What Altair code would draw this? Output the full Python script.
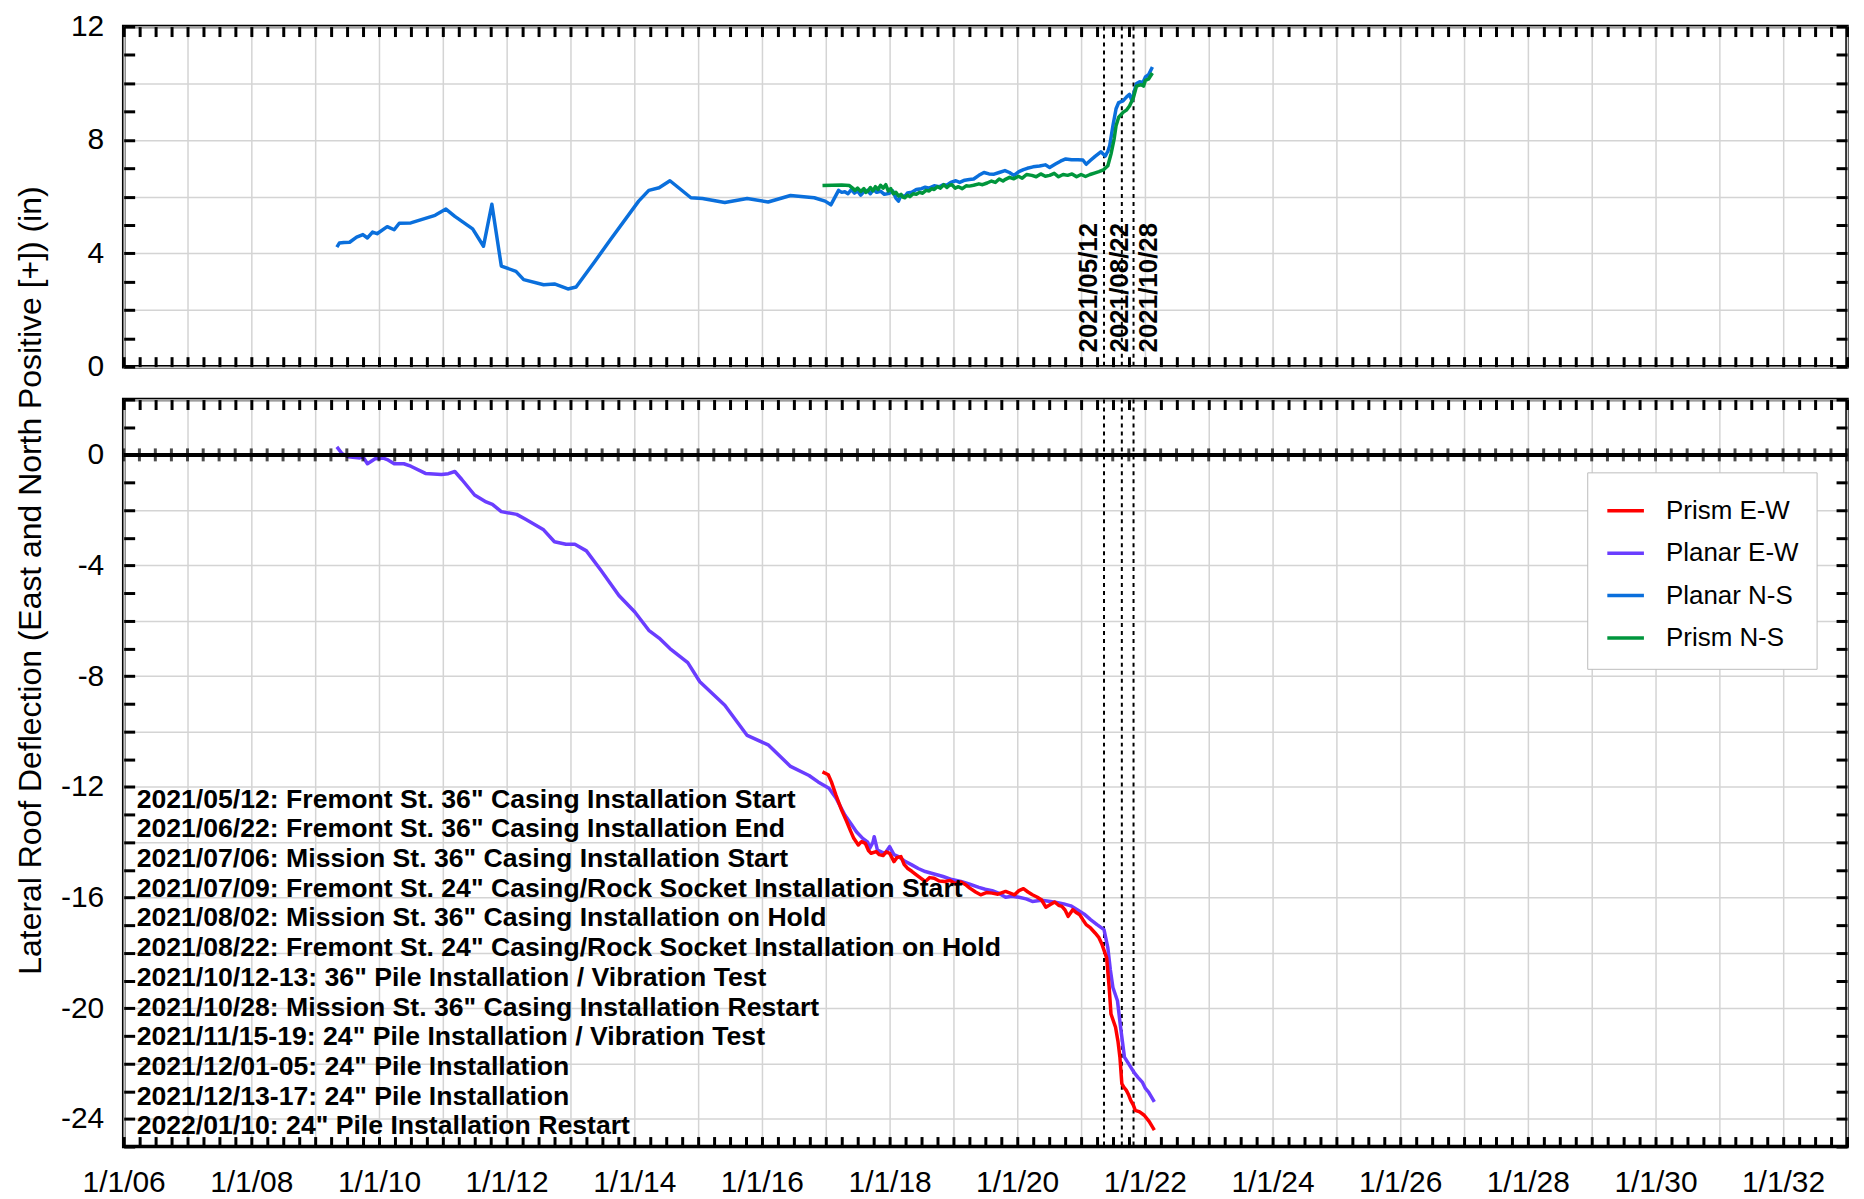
import altair as alt
import pandas as pd

# ---------------- data (decimal years, inches) ----------------
planar_ns_t = [2009.34, 2009.38, 2009.45, 2009.54, 2009.65, 2009.75, 2009.82, 2009.90, 2009.97, 2010.13,
               2010.24, 2010.32, 2010.50, 2010.88, 2011.05, 2011.19, 2011.47, 2011.64, 2011.77, 2011.92,
               2012.15, 2012.27, 2012.58, 2012.75, 2012.96, 2013.09, 2013.38, 2013.62, 2014.07, 2014.23,
               2014.39, 2014.56, 2014.73, 2014.89, 2015.07, 2015.42, 2015.77, 2016.10, 2016.45, 2016.82,
               2016.99, 2017.08, 2017.20, 2017.25, 2017.30, 2017.35, 2017.40, 2017.45, 2017.50, 2017.55,
               2017.60, 2017.65, 2017.70, 2017.75, 2017.80, 2017.86, 2017.92, 2018.00, 2018.05, 2018.10,
               2018.14, 2018.18, 2018.24, 2018.28, 2018.35, 2018.42, 2018.50, 2018.56, 2018.62, 2018.70,
               2018.78, 2018.84, 2018.90, 2018.96, 2019.04, 2019.10, 2019.18, 2019.25, 2019.32, 2019.40,
               2019.48, 2019.56, 2019.64, 2019.72, 2019.81, 2019.88, 2019.95, 2020.03, 2020.10, 2020.16,
               2020.25, 2020.35, 2020.44, 2020.51, 2020.60, 2020.68, 2020.76, 2020.85, 2020.95, 2021.03,
               2021.08, 2021.15, 2021.22, 2021.31, 2021.38, 2021.42, 2021.45, 2021.50, 2021.55, 2021.59,
               2021.66, 2021.71, 2021.76, 2021.80, 2021.84, 2021.87, 2021.92, 2021.97, 2022.01, 2022.06,
               2022.12]
planar_ns_v = [4.22, 4.36, 4.38, 4.39, 4.57, 4.66, 4.54, 4.75, 4.69, 4.94,
               4.83, 5.06, 5.07, 5.34, 5.56, 5.30, 4.86, 4.25, 5.73, 3.55,
               3.36, 3.07, 2.89, 2.92, 2.74, 2.81, 3.70, 4.46, 5.84, 6.22,
               6.31, 6.56, 6.25, 5.96, 5.93, 5.79, 5.93, 5.81, 6.04, 5.96,
               5.84, 5.71, 6.22, 6.15, 6.17, 6.10, 6.25, 6.12, 6.20, 6.05,
               6.18, 6.22, 6.10, 6.25, 6.15, 6.19, 6.08, 6.12, 6.20, 5.95,
               5.84, 6.05, 6.00, 6.13, 6.15, 6.25, 6.28, 6.33, 6.30, 6.38,
               6.35, 6.42, 6.40, 6.50, 6.56, 6.50, 6.58, 6.60, 6.62, 6.75,
               6.85, 6.80, 6.79, 6.85, 6.92, 6.85, 6.75, 6.88, 6.95, 7.00,
               7.05, 7.08, 7.12, 7.03, 7.15, 7.25, 7.33, 7.30, 7.30, 7.29,
               7.14, 7.28, 7.42, 7.58, 7.43, 7.60, 7.81, 8.50, 9.10, 9.32,
               9.38, 9.51, 9.61, 9.38, 9.75, 9.99, 10.05, 10.03, 10.22, 10.30,
               10.57]

prism_ns_t = [2016.95, 2017.10, 2017.25, 2017.37, 2017.42, 2017.46, 2017.50, 2017.55, 2017.60, 2017.63,
              2017.66, 2017.70, 2017.74, 2017.78, 2017.82, 2017.86, 2017.90, 2017.94, 2017.98, 2018.02,
              2018.06, 2018.10, 2018.14, 2018.18, 2018.21, 2018.24, 2018.28, 2018.32, 2018.37, 2018.42,
              2018.47, 2018.52, 2018.57, 2018.62, 2018.66, 2018.70, 2018.75, 2018.80, 2018.85, 2018.90,
              2018.94, 2018.98, 2019.03, 2019.08, 2019.14, 2019.20, 2019.25, 2019.32, 2019.40, 2019.46,
              2019.53, 2019.60, 2019.66, 2019.72, 2019.78, 2019.81, 2019.88, 2019.95, 2020.02, 2020.08,
              2020.15, 2020.23, 2020.30, 2020.37, 2020.44, 2020.51, 2020.58, 2020.65, 2020.72, 2020.79,
              2020.86, 2020.93, 2021.00, 2021.07, 2021.14, 2021.21, 2021.28, 2021.35, 2021.42, 2021.47,
              2021.52, 2021.55, 2021.59, 2021.66, 2021.71, 2021.76, 2021.82, 2021.87, 2021.94, 2021.98,
              2022.01, 2022.06, 2022.12]
prism_ns_v = [6.39, 6.40, 6.41, 6.39, 6.30, 6.22, 6.30, 6.18, 6.28, 6.15,
              6.19, 6.32, 6.20, 6.35, 6.25, 6.40, 6.30, 6.42, 6.20, 6.28,
              6.10, 6.15, 6.02, 6.08, 5.98, 5.96, 6.05, 6.00, 6.10, 6.08,
              6.15, 6.12, 6.22, 6.20, 6.28, 6.25, 6.35, 6.30, 6.42, 6.32,
              6.40, 6.42, 6.30, 6.35, 6.28, 6.38, 6.37, 6.40, 6.45, 6.42,
              6.48, 6.55, 6.50, 6.62, 6.55, 6.60, 6.68, 6.63, 6.72, 6.65,
              6.78, 6.75, 6.70, 6.80, 6.72, 6.75, 6.82, 6.70, 6.78, 6.75,
              6.80, 6.70, 6.78, 6.71, 6.78, 6.83, 6.88, 6.94, 7.09, 7.50,
              8.04, 8.50, 8.80, 8.97, 9.05, 9.20, 9.49, 9.90, 9.95, 9.90,
              10.10, 10.15, 10.36]

planar_ew_t = [2009.34, 2009.42, 2009.52, 2009.70, 2009.75, 2009.82, 2009.94, 2010.06, 2010.13, 2010.24,
               2010.39, 2010.50, 2010.73, 2010.98, 2011.09, 2011.19, 2011.30, 2011.50, 2011.68, 2011.78,
               2011.92, 2012.16, 2012.30, 2012.58, 2012.75, 2012.93, 2013.07, 2013.25, 2013.48, 2013.76,
               2014.01, 2014.23, 2014.39, 2014.56, 2014.84, 2015.03, 2015.42, 2015.77, 2016.10, 2016.45,
               2016.74, 2016.88, 2017.05, 2017.16, 2017.30, 2017.41, 2017.48, 2017.58, 2017.66, 2017.69,
               2017.74, 2017.76, 2017.81, 2017.87, 2017.93, 2018.00, 2018.07, 2018.14, 2018.25, 2018.35,
               2018.45, 2018.56, 2018.70, 2018.84, 2018.98, 2019.12, 2019.26, 2019.40, 2019.50, 2019.61,
               2019.72, 2019.82, 2019.92, 2020.03, 2020.14, 2020.24, 2020.38, 2020.52, 2020.62, 2020.73,
               2020.84, 2020.94, 2021.05, 2021.15, 2021.25, 2021.36, 2021.42, 2021.46, 2021.50, 2021.57,
               2021.62, 2021.68, 2021.73, 2021.78, 2021.84, 2021.89, 2021.96, 2022.01, 2022.06, 2022.15]
planar_ew_v = [0.29, 0.05, -0.07, -0.11, -0.07, -0.32, -0.14, -0.11, -0.17, -0.32,
               -0.32, -0.41, -0.67, -0.71, -0.68, -0.60, -0.89, -1.45, -1.70, -1.79,
               -2.05, -2.15, -2.33, -2.71, -3.14, -3.23, -3.23, -3.47, -4.18, -5.08,
               -5.68, -6.34, -6.62, -7.00, -7.51, -8.20, -9.05, -10.14, -10.48, -11.26,
               -11.59, -11.82, -12.05, -12.40, -13.02, -13.38, -13.62, -13.86, -14.00, -14.22,
               -14.00, -13.80, -14.28, -14.35, -14.40, -14.16, -14.45, -14.52, -14.70, -14.82,
               -14.95, -15.06, -15.15, -15.24, -15.35, -15.42, -15.52, -15.63, -15.70, -15.75,
               -15.85, -15.99, -15.95, -15.99, -16.05, -16.14, -16.10, -16.14, -16.18, -16.23,
               -16.30, -16.44, -16.60, -16.80, -16.98, -17.16, -17.82, -18.60, -19.25, -19.73,
               -20.70, -21.77, -21.95, -22.13, -22.35, -22.49, -22.67, -22.90, -23.03, -23.39]

prism_ew_t = [2016.95, 2017.04, 2017.09, 2017.16, 2017.25, 2017.33, 2017.39, 2017.44, 2017.51, 2017.56,
              2017.62, 2017.67, 2017.71, 2017.79, 2017.84, 2017.90, 2017.95, 2018.00, 2018.07, 2018.12,
              2018.18, 2018.23, 2018.28, 2018.35, 2018.42, 2018.49, 2018.56, 2018.63, 2018.70, 2018.78,
              2018.87, 2018.95, 2019.03, 2019.12, 2019.20, 2019.26, 2019.35, 2019.43, 2019.52, 2019.61,
              2019.70, 2019.82, 2019.90, 2019.96, 2020.03, 2020.10, 2020.17, 2020.24, 2020.31, 2020.38,
              2020.45, 2020.52, 2020.59, 2020.65, 2020.70, 2020.75, 2020.80, 2020.87, 2020.93, 2020.98,
              2021.03, 2021.08, 2021.15, 2021.22, 2021.28, 2021.33, 2021.40, 2021.44, 2021.47, 2021.54,
              2021.58, 2021.61, 2021.64, 2021.67, 2021.71, 2021.75, 2021.78, 2021.82, 2021.85, 2021.92,
              2021.99, 2022.07, 2022.15]
prism_ew_v = [-11.46, -11.56, -11.82, -12.30, -12.85, -13.26, -13.60, -13.86, -14.10, -13.98,
              -14.04, -14.30, -14.40, -14.34, -14.45, -14.48, -14.35, -14.40, -14.70, -14.55,
              -14.52, -14.80, -14.94, -15.05, -15.18, -15.30, -15.42, -15.28, -15.30, -15.40,
              -15.42, -15.38, -15.50, -15.44, -15.55, -15.66, -15.80, -15.90, -15.82, -15.84,
              -15.88, -15.78, -15.85, -15.90, -15.75, -15.68, -15.80, -15.90, -15.98, -16.08,
              -16.35, -16.25, -16.16, -16.28, -16.32, -16.45, -16.68, -16.44, -16.55, -16.62,
              -16.80, -16.98, -17.10, -17.28, -17.45, -17.70, -18.18, -19.20, -20.21, -20.69,
              -21.20, -21.77, -22.73, -22.85, -22.97, -23.15, -23.33, -23.50, -23.69, -23.75,
              -23.87, -24.10, -24.41]

SERIES = ["Prism E-W", "Planar E-W", "Planar N-S", "Prism N-S"]
COLORS = ["#ff0000", "#6a3dff", "#0a6fdc", "#00963c"]

EVENT_DATES = ["2021-05-12", "2021-08-22", "2021-10-28"]
EVENT_LABELS = ["2021/05/12", "2021/08/22", "2021/10/28"]

NOTES = [
    '2021/05/12: Fremont St. 36" Casing Installation Start',
    '2021/06/22: Fremont St. 36" Casing Installation End',
    '2021/07/06: Mission St.  36" Casing Installation Start',
    '2021/07/09: Fremont St. 24" Casing/Rock Socket Installation Start',
    '2021/08/02: Mission St.  36" Casing Installation on Hold',
    '2021/08/22: Fremont St. 24" Casing/Rock Socket Installation on Hold',
    '2021/10/12-13: 36" Pile Installation / Vibration Test',
    '2021/10/28: Mission St.  36" Casing Installation Restart',
    '2021/11/15-19: 24" Pile Installation / Vibration Test',
    '2021/12/01-05: 24" Pile Installation',
    '2021/12/13-17: 24" Pile Installation',
    '2022/01/10: 24" Pile Installation Restart',
]

Y_TITLE = "Lateral Roof Deflection (East and North Positive [+]) (in)"

TOP_DOMAIN = [0, 12]
BOT_DOMAIN = [-25, 2]
TOP_GRID = list(range(0, 13, 2))
BOT_GRID = list(range(-24, 3, 2))
TOP_TICKS = list(range(0, 13))
BOT_TICKS = list(range(-25, 3))


# ---------------- helpers ----------------
def to_iso(ts):
    out = []
    for t in ts:
        y = int(t)
        a = pd.Timestamp(year=y, month=1, day=1)
        b = pd.Timestamp(year=y + 1, month=1, day=1)
        out.append((a + (b - a) * (t - y)).strftime("%Y-%m-%d"))
    return out


def utc_ms(y, m):
    return int(pd.Timestamp(year=y, month=m, day=1, tz="UTC").value // 1_000_000)


YEAR_MS = [utc_ms(y, 1) for y in range(2006, 2034)]
QUARTER_MS = [utc_ms(y, m) for y in range(2006, 2033) for m in (1, 4, 7, 10)] + [utc_ms(2033, 1)]
X_DOMAIN = [utc_ms(2006, 1), utc_ms(2033, 1)]


def frame(pairs):
    rows = []
    for name, ts, vs in pairs:
        for d, v in zip(to_iso(ts), vs):
            rows.append({"date": d, "value": v, "series": name})
    return pd.DataFrame(rows)


top_df = frame([("Planar N-S", planar_ns_t, planar_ns_v), ("Prism N-S", prism_ns_t, prism_ns_v)])
bot_df = frame([("Planar E-W", planar_ew_t, planar_ew_v), ("Prism E-W", prism_ew_t, prism_ew_v)])
events_df = pd.DataFrame({"date": EVENT_DATES, "label": EVENT_LABELS})
quarter_df = pd.DataFrame({"t": QUARTER_MS})
one_df = pd.DataFrame({"t": [X_DOMAIN[0]]})

FONT = "Liberation Sans"
GRID = "#d4d4d4"
W = 1728

color_scale = alt.Scale(domain=SERIES, range=COLORS)
legend = alt.Legend(orient="none", legendX=1467.5, legendY=447, title=None,
                    symbolType="stroke", symbolSize=1347, symbolStrokeWidth=3.5,
                    labelFont=FONT, labelFontSize=26, labelColor="black", labelOffset=20,
                    padding=18, rowPadding=8.5, fillColor="white", strokeColor="#bdbdbd",
                    labelLimit=400)


def grid_axis_x(labels):
    kw = dict(orient="bottom", values=YEAR_MS, grid=True, gridColor=GRID, gridWidth=1.5,
              ticks=False, tickSize=0, domain=False, title=None, labels=labels, zindex=0)
    if labels:
        kw.update(labelExpr="utcyear(datum.value) % 2 == 0 ? utcFormat(datum.value, '%-m/%-d/%y') : ''",
                  labelFont=FONT, labelFontSize=30, labelColor="black", labelPadding=21,
                  labelOverlap=False, labelFlush=False)
    return alt.Axis(**kw)


def grid_axis_y(values, title):
    kw = dict(orient="left", values=values, grid=True, gridColor=GRID, gridWidth=1.5,
              ticks=False, tickSize=0, domain=False, zindex=0,
              labelExpr="datum.value % 4 == 0 ? '' + datum.value : ''",
              labelFont=FONT, labelFontSize=30, labelColor="black", labelPadding=20,
              labelOverlap=False, labelFlush=False)
    if title:
        kw.update(title=title, titleFont=FONT, titleFontSize=32, titleFontWeight="normal",
                  titleColor="black", titleX=-93, titleY=181, titleAngle=270,
                  titleAlign="center", titleBaseline="middle")
    else:
        kw.update(title=None)
    return alt.Axis(**kw)


def tick_axis(orient, values, size):
    return alt.Axis(orient=orient, values=values, offset=-size, tickSize=size, tickWidth=3,
                    tickColor="black", ticks=True, labels=False, domain=False, grid=False,
                    title=None, zindex=1)


def panel(df, y_domain, grid_vals, tick_vals, height, x_labels, title, extra):
    xs = alt.Scale(domain=X_DOMAIN, nice=False)
    ys = alt.Scale(domain=y_domain, nice=False, zero=False)
    base = alt.Chart(df)
    rules = alt.Chart(events_df).mark_rule(color="black", strokeWidth=2, strokeDash=[4, 4]).encode(
        x=alt.X("date:T", scale=xs, axis=None))
    lines = base.mark_line(strokeWidth=3.5, strokeJoin="round").encode(
        x=alt.X("date:T", scale=xs, axis=grid_axis_x(x_labels)),
        y=alt.Y("value:Q", scale=ys, axis=grid_axis_y(grid_vals, title)),
        color=alt.Color("series:N", scale=color_scale, legend=legend),
    )
    c1 = base.mark_point(opacity=0).encode(
        x=alt.X("date:T", axis=tick_axis("bottom", QUARTER_MS, 10)),
        y=alt.Y("value:Q", axis=tick_axis("left", tick_vals, 11)))
    c2 = base.mark_point(opacity=0).encode(
        x=alt.X("date:T", axis=tick_axis("top", QUARTER_MS, 10)),
        y=alt.Y("value:Q", axis=tick_axis("right", tick_vals, 11)))
    return alt.layer(rules, lines, *extra, c1, c2).properties(width=W, height=height).resolve_axis(
        x="independent", y="independent")


# date labels on the top panel
label_dy = [-15, -2, 16]
date_labels = []
for i in range(len(EVENT_DATES)):
    date_labels.append(
        alt.Chart(events_df.iloc[[i]]).mark_text(
            angle=270, align="left", baseline="middle", dy=label_dy[i], fontSize=26,
            fontWeight="bold", font=FONT, color="black").encode(
            x=alt.X("date:T", axis=None), y=alt.Y(datum=0.5, axis=None), text="label:N"))

zero_rule = alt.Chart(one_df).mark_rule(color="black", strokeWidth=4).encode(y=alt.Y(datum=0, axis=None))
zero_ticks = alt.Chart(quarter_df).mark_tick(orient="vertical", size=13, thickness=3, color="black").encode(
    x=alt.X("t:T", axis=None), y=alt.Y(datum=0, axis=None))
notes = alt.Chart(one_df).mark_text(
    text=NOTES, align="left", baseline="top", dx=13, fontSize=26.7, fontWeight="bold",
    lineHeight=29.75, font=FONT, color="black").encode(
    x=alt.X("t:T", axis=None), y=alt.Y(datum=-12, axis=None))

top = panel(top_df, TOP_DOMAIN, TOP_GRID, TOP_TICKS, 341, False, None, date_labels)
bottom = panel(bot_df, BOT_DOMAIN, BOT_GRID, BOT_TICKS, 749, True, Y_TITLE, [zero_rule, zero_ticks, notes])

chart = alt.vconcat(top, bottom, spacing=33, bounds="flush").properties(
    padding={"left": 5, "top": 0, "right": 5, "bottom": 0},
    background="white",
).configure_view(stroke="black", strokeWidth=3.5)

chart.save("out.html", embed_options={"renderer": "svg", "actions": False})
